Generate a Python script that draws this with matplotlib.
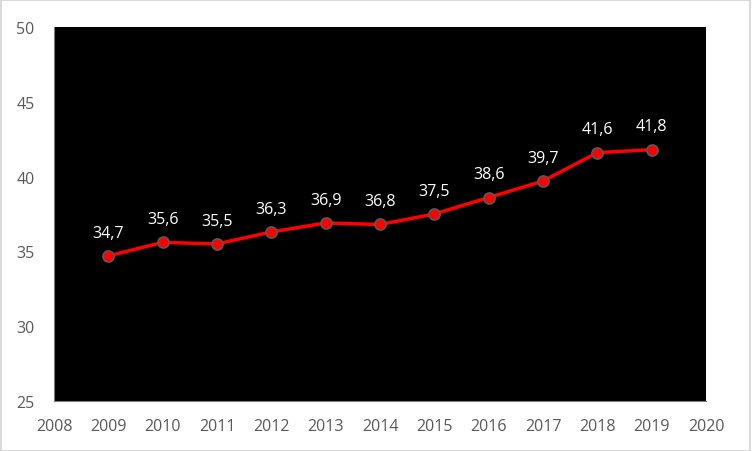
import matplotlib
matplotlib.use("Agg")
import matplotlib.pyplot as plt
from matplotlib.patches import Rectangle

years = [2009, 2010, 2011, 2012, 2013, 2014, 2015, 2016, 2017, 2018, 2019]
values = [34.7, 35.6, 35.5, 36.3, 36.9, 36.8, 37.5, 38.6, 39.7, 41.6, 41.8]
labels = ["34,7", "35,6", "35,5", "36,3", "36,9", "36,8", "37,5", "38,6", "39,7", "41,6", "41,8"]
xticks = list(range(2008, 2021))
yticks = [25, 30, 35, 40, 45, 50]

plt.rcParams['font.family'] = ['Open Sans', 'DejaVu Sans']

fig = plt.figure(figsize=(7.52, 4.52), dpi=100)
fig.patch.set_facecolor('white')
fig.add_artist(Rectangle((0.001, 0.001), 0.997, 0.996, transform=fig.transFigure,
                         fill=False, edgecolor='#d9d9d9', linewidth=1.5))

ax = fig.add_axes([54/752, 1 - 402/452, (706-54)/752, (402-28)/452])
ax.set_facecolor('black')
ax.plot(years, values, color='red', linewidth=2.5, marker='o', markersize=8,
        markerfacecolor='red', markeredgecolor='#595959', markeredgewidth=1.2, zorder=3)
for x, y, t in zip(years, values, labels):
    ax.annotate(t, (x, y), xytext=(0, 11), textcoords='offset points',
                ha='center', va='bottom', color='white', fontsize=11.5)

ax.set_xlim(2008, 2020)
ax.set_ylim(25, 50)
ax.set_xticks(xticks)
ax.set_yticks(yticks)
ax.tick_params(axis='both', length=0, colors='#595959', labelsize=11.5)
ax.tick_params(axis='x', pad=12)
ax.tick_params(axis='y', pad=14)
for s in ax.spines.values():
    s.set_visible(False)
ax.spines['left'].set_visible(True)
ax.spines['left'].set_color('#7f7f7f')
ax.spines['bottom'].set_visible(True)
ax.spines['bottom'].set_color('#7f7f7f')

fig.savefig('out.png', dpi=100, facecolor='white')
